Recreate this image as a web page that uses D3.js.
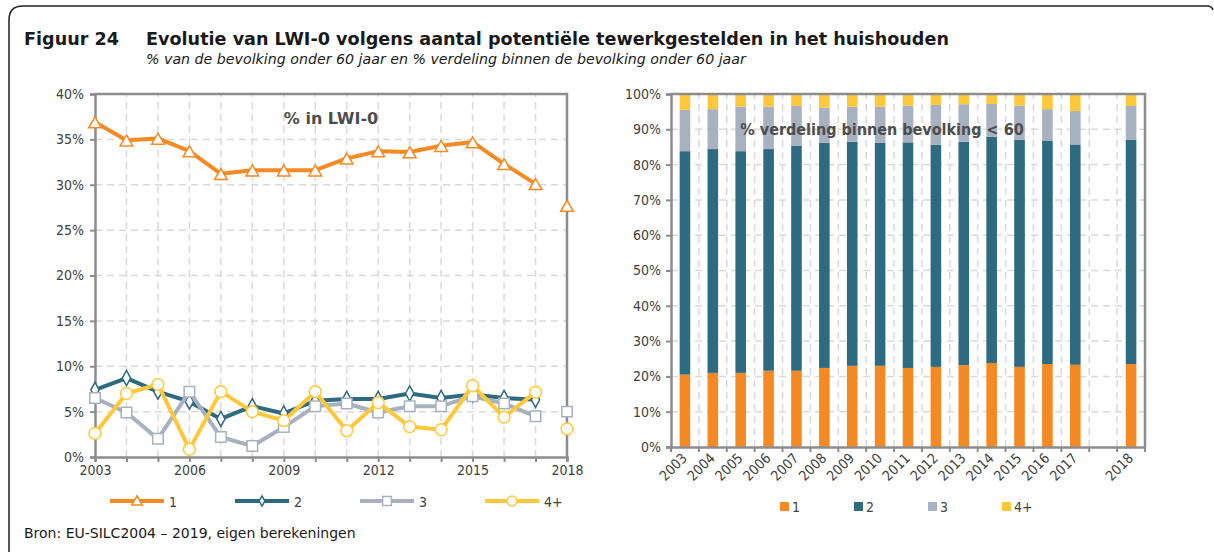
<!DOCTYPE html>
<html lang="nl">
  <head>
    <meta charset="utf-8">
    <title>Figuur 24</title>
    <script src="https://d3js.org/d3.v7.min.js" charset="utf-8"></script>
    <style>
      body { margin: 0; background: #fff; }
      svg text { font-family: 'DejaVu Sans Condensed', 'DejaVu Sans', sans-serif; }
    </style>
  </head>
  <body>
  	<script>
      var width = 1214,
      height = 556;

      // left chart: % in LWI-0 per number of potential workers
      var years = [2003, 2004, 2005, 2006, 2007, 2008, 2009, 2010, 2011, 2012, 2013, 2014, 2015, 2016, 2017, 2018];
      var seriesNames = ["1", "2", "3", "4+"];
      var rate1 = [36.9, 34.9, 35.1, 33.7, 31.2, 31.6, 31.6, 31.6, 32.9, 33.7, 33.6, 34.3, 34.7, 32.3, 30.1, 27.7];
      var rate2 = [7.4, 8.7, 7.2, 6.1, 4.2, 5.6, 4.8, 6.2, 6.4, 6.4, 7.0, 6.5, 6.9, 6.5, 6.3, null];
      var rate3 = [6.5, 4.9, 2.0, 7.2, 2.2, 1.2, 3.3, 5.6, 5.9, 4.9, 5.6, 5.6, 6.7, 5.9, 4.5, 5.0];
      var rate4 = [2.6, 7.0, 8.0, 0.85, 7.2, 5.0, 4.0, 7.2, 2.9, 6.0, 3.35, 3.0, 7.85, 4.4, 7.15, 3.1];
      var breakYear = 2018; // series break: no line into 2018
      var yTicksLeft = [0, 5, 10, 15, 20, 25, 30, 35, 40];
      var xLabelsLeft = [2003, 2006, 2009, 2012, 2015, 2018];

      // right chart: % distribution within population < 60
      var share1 = [20.5, 21.0, 21.0, 21.6, 21.6, 22.4, 23.0, 23.0, 22.4, 22.7, 23.2, 23.8, 22.7, 23.5, 23.3, 23.5];
      var share2 = [63.3, 63.4, 62.8, 62.8, 63.7, 63.8, 63.5, 63.2, 63.9, 62.9, 63.3, 64.1, 64.3, 63.2, 62.4, 63.5];
      var share3 = [11.7, 11.3, 12.6, 12.0, 11.3, 9.9, 9.9, 10.2, 10.4, 11.3, 10.6, 9.3, 9.7, 9.0, 9.5, 9.6];
      var share4 = [4.5, 4.3, 3.6, 3.6, 3.4, 3.9, 3.6, 3.6, 3.3, 3.1, 2.9, 2.8, 3.3, 4.3, 4.8, 3.4];
      var barSlots = ["2003", "2004", "2005", "2006", "2007", "2008", "2009", "2010", "2011", "2012", "2013", "2014", "2015", "2016", "2017", "gap", "2018"];
      var yTicksRight = [0, 0.1, 0.2, 0.3, 0.4, 0.5, 0.6, 0.7, 0.8, 0.9, 1];

      var colors = ["#f58a24", "#2e6a80", "#a7b1bf", "#fec83a"];
      var axisGrey = "#8c8c8c", gridGrey = "#d9d9d9", textGrey = "#404040";
      var wideFont = "'DejaVu Sans', sans-serif";

      var svg = d3.select("body").append("svg")
        .attr("width", width)
        .attr("height", height);

      // frame (top + left, rounded corner)
      svg.append("path")
        .attr("d", "M9,552 L9,20 Q9,6 23,6 L1207,6 Q1212,6 1213,10")
        .style("fill", "none")
        .style("stroke", "#222")
        .style("stroke-width", 1.5);

      svg.append("text").attr("x", 24).attr("y", 45)
        .style("font-family", wideFont)
        .style("font-size", "17.6px").style("font-weight", "bold").style("fill", "#1a1a1a")
        .text("Figuur 24");
      svg.append("text").attr("x", 146).attr("y", 45)
        .style("font-family", wideFont)
        .style("font-size", "17.6px").style("font-weight", "bold").style("fill", "#1a1a1a")
        .text("Evolutie van LWI-0 volgens aantal potentiële tewerkgestelden in het huishouden");
      svg.append("text").attr("x", 146).attr("y", 64)
        .style("font-family", wideFont)
        .style("font-size", "14.2px").style("font-style", "italic").style("fill", "#1a1a1a")
        .text("% van de bevolking onder 60 jaar en % verdeling binnen de bevolking onder 60 jaar");
      svg.append("text").attr("x", 24).attr("y", 538)
        .style("font-family", wideFont)
        .style("font-size", "14px").style("fill", "#1a1a1a")
        .text("Bron: EU-SILC2004 \u2013 2019, eigen berekeningen");

      // ---------- left chart ----------
      var xL = d3.scaleLinear().domain([2003, 2018]).range([95, 567]);
      var yL = d3.scaleLinear().domain([0, 40]).range([457, 94]);

      var gL = svg.append("g").attr("class", "left");

      gL.selectAll(".hgrid").data(yTicksLeft.slice(1)).enter().append("line")
        .attr("x1", xL(2003)).attr("x2", xL(2018))
        .attr("y1", function(d) { return yL(d); }).attr("y2", function(d) { return yL(d); })
        .style("stroke", gridGrey).style("stroke-width", 1.5).style("stroke-dasharray", "7,5");
      gL.selectAll(".vgrid").data(years.slice(1, -1)).enter().append("line")
        .attr("x1", function(d) { return xL(d); }).attr("x2", function(d) { return xL(d); })
        .attr("y1", yL(0)).attr("y2", yL(40))
        .style("stroke", gridGrey).style("stroke-width", 1.5).style("stroke-dasharray", "7,5");

      // plot border
      gL.append("path")
        .attr("d", "M" + xL(2003) + "," + yL(40) + "H" + xL(2018) + "V" + yL(0))
        .style("fill", "none").style("stroke", axisGrey).style("stroke-width", 2.5);

      var axL = gL.append("g").attr("transform", "translate(" + xL(2003) + ",0)")
        .call(d3.axisLeft(yL).tickValues(yTicksLeft).tickSize(5).tickFormat(function(d) { return d + "%"; }));
      var axB = gL.append("g").attr("transform", "translate(0," + yL(0) + ")")
        .call(d3.axisBottom(xL).tickValues(years).tickSize(5)
          .tickFormat(function(d) { return xLabelsLeft.indexOf(d) >= 0 ? d : ""; }));
      [axL, axB].forEach(function(ax) {
        ax.select(".domain").style("stroke", axisGrey).style("stroke-width", 2.5);
        ax.selectAll(".tick line").style("stroke", axisGrey).style("stroke-width", 2);
        ax.selectAll("text").style("font-size", "14px").style("fill", textGrey)
          .style("font-family", "'DejaVu Sans Condensed', 'DejaVu Sans', sans-serif");
      });
      axL.selectAll("text").attr("x", -11);
      axB.selectAll("text").attr("y", 8);

      gL.append("text").attr("x", (xL(2003) + xL(2018)) / 2).attr("y", 124)
        .attr("text-anchor", "middle")
        .style("font-family", wideFont)
        .style("font-size", "16px").style("font-weight", "bold").style("fill", "#4d4d4d")
        .text("% in LWI-0");

      var rates = [rate1, rate2, rate3, rate4];
      var symbols = [d3.symbolTriangle, d3.symbolDiamond, d3.symbolSquare, d3.symbolCircle];
      var symSizes = [70, 60, 110, 110];

      var line = d3.line()
        .defined(function(d) { return d.year < breakYear && d.value != null; })
        .x(function(d) { return xL(d.year); })
        .y(function(d) { return yL(d.value); });

      function marker(sel, i, sizeScale) {
        sel.attr("d", d3.symbol().type(symbols[i]).size(symSizes[i] * sizeScale))
          .style("fill", "#fff")
          .style("stroke", colors[i])
          .style("stroke-width", 1.5);
      }

      rates.forEach(function(vals, i) {
        var pts = years.map(function(y, j) { return {year: y, value: vals[j]}; });
        var g = gL.append("g").attr("class", "series s" + i);
        g.append("path").datum(pts).attr("d", line)
          .style("fill", "none").style("stroke", colors[i])
          .style("stroke-width", 4).style("stroke-linejoin", "round");
        g.selectAll("path.mk").data(pts.filter(function(d) { return d.value != null; }))
          .enter().append("path").attr("class", "mk")
          .attr("transform", function(d) {
            var dy = i === 0 ? 2 : 0;
            return "translate(" + xL(d.year) + "," + (yL(d.value) + dy) + ")" + (i === 1 ? " scale(1,1.05)" : "");
          })
          .call(marker, i, 1);
      });

      // left legend
      var legL = [110, 235, 360, 485];
      seriesNames.forEach(function(name, i) {
        var g = gL.append("g").attr("transform", "translate(" + legL[i] + ",501)");
        g.append("line").attr("x1", 0).attr("x2", 54)
          .style("stroke", colors[i]).style("stroke-width", 4);
        g.append("path").attr("transform", "translate(27," + (i === 0 ? 1 : 0) + ")").call(marker, i, i === 1 ? 0.5 : 0.7);
        g.append("text").attr("x", 59).attr("y", 5.5)
          .style("font-size", "14px").style("fill", textGrey).text(name);
      });

      // ---------- right chart ----------
      var xR = d3.scaleBand().domain(barSlots).range([671, 1145])
        .paddingInner(0.62).paddingOuter(0.31);
      var yR = d3.scaleLinear().domain([0, 1]).range([447, 94]);
      var step = xR.step();

      var gR = svg.append("g").attr("class", "right");

      gR.selectAll(".hgrid").data(yTicksRight.slice(1)).enter().append("line")
        .attr("x1", 671).attr("x2", 1145)
        .attr("y1", function(d) { return yR(d); }).attr("y2", function(d) { return yR(d); })
        .style("stroke", gridGrey).style("stroke-width", 1.5).style("stroke-dasharray", "7,5");
      gR.selectAll(".vgrid").data(barSlots.slice(1)).enter().append("line")
        .attr("x1", function(d) { return xR(d) - xR.paddingOuter() * step; })
        .attr("x2", function(d) { return xR(d) - xR.paddingOuter() * step; })
        .attr("y1", yR(0)).attr("y2", yR(1))
        .style("stroke", gridGrey).style("stroke-width", 1.5).style("stroke-dasharray", "7,5");

      var table = years.map(function(y, j) {
        return {slot: String(y), "1": share1[j] / 100, "2": share2[j] / 100, "3": share3[j] / 100, "4+": share4[j] / 100};
      });
      var stack = d3.stack().keys(seriesNames)(table);

      gR.selectAll("g.layer").data(stack).enter().append("g").attr("class", "layer")
        .style("fill", function(d, i) { return colors[i]; })
        .selectAll("rect").data(function(d) { return d; }).enter().append("rect")
        .attr("x", function(d) { return xR(d.data.slot); })
        .attr("width", xR.bandwidth())
        .attr("y", function(d) { return yR(d[1]); })
        .attr("height", function(d) { return yR(d[0]) - yR(d[1]); });

      gR.append("path")
        .attr("d", "M671," + yR(1) + "H1145V" + yR(0))
        .style("fill", "none").style("stroke", axisGrey).style("stroke-width", 2.5);

      var axRL = gR.append("g").attr("transform", "translate(671,0)")
        .call(d3.axisLeft(yR).tickValues(yTicksRight).tickSize(5).tickFormat(d3.format(".0%")));
      var axRB = gR.append("g").attr("transform", "translate(0," + yR(0) + ")")
        .call(d3.axisBottom(xR).tickSize(0).tickFormat(function(d) { return d === "gap" ? "" : d; }));
      gR.selectAll(".btick").data(d3.range(barSlots.length + 1)).enter().append("line")
        .attr("x1", function(d) { return 671 + d * step; }).attr("x2", function(d) { return 671 + d * step; })
        .attr("y1", yR(0)).attr("y2", yR(0) + 5)
        .style("stroke", axisGrey).style("stroke-width", 2);
      [axRL, axRB].forEach(function(ax) {
        ax.select(".domain").style("stroke", axisGrey).style("stroke-width", 2.5);
        ax.selectAll(".tick line").style("stroke", axisGrey).style("stroke-width", 2);
        ax.selectAll("text").style("font-size", "14px").style("fill", textGrey)
          .style("font-family", "'DejaVu Sans Condensed', 'DejaVu Sans', sans-serif");
      });
      axRL.selectAll("text").attr("x", -10);
      axRB.selectAll("text")
        .attr("text-anchor", "end")
        .attr("dy", 0).attr("y", 0)
        .attr("transform", "translate(3,12) rotate(-45)");

      gR.append("text").attr("x", 882).attr("y", 135)
        .attr("text-anchor", "middle")
        .style("font-size", "16px").style("font-weight", "bold").style("fill", "#4d4d4d")
        .text("% verdeling binnen bevolking < 60");

      // right legend
      var legR = [780, 854, 928, 1002];
      seriesNames.forEach(function(name, i) {
        var g = gR.append("g").attr("transform", "translate(" + legR[i] + ",502)");
        g.append("rect").attr("width", 9).attr("height", 9).style("fill", colors[i]);
        g.append("text").attr("x", 12).attr("y", 10)
          .style("font-size", "14px").style("fill", textGrey).text(name);
      });
  	</script>
  </body>
</html>
